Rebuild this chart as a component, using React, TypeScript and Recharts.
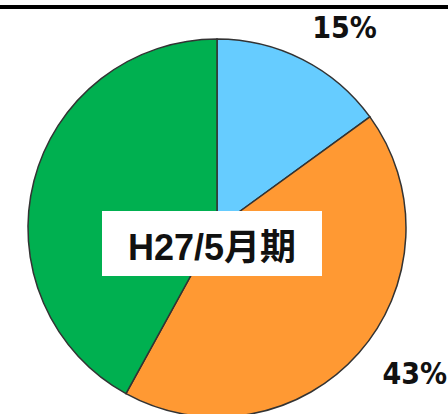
import * as React from "react"
import { PieChart, Pie, Cell } from "recharts"

const SEGMENTS = ["A", "B", "C"]
const SHARES = [15, 43, 42]
const SHARE_LABELS = ["15%", "43%", ""]
const COLORS = ["#66CCFF", "#FF9933", "#00B050"]
const PERIOD = "H27/5月期"

// label nudges (px) from the default outside position
const LABEL_NUDGE = [
  { dx: 20, dy: 11 },
  { dx: 20, dy: -11 },
  { dx: 0, dy: 0 },
]

const data = SEGMENTS.map((name, i) => ({
  name,
  value: SHARES[i],
  label: SHARE_LABELS[i],
}))

const RADIAN = Math.PI / 180

function renderLabel(props: any) {
  const { cx, cy, midAngle, outerRadius, index } = props
  const text = SHARE_LABELS[index]
  if (!text) return null
  const r = outerRadius + 48
  const x = cx + r * Math.cos(-midAngle * RADIAN) + LABEL_NUDGE[index].dx
  const y = cy + r * Math.sin(-midAngle * RADIAN) + LABEL_NUDGE[index].dy
  return (
    <text
      x={x}
      y={y}
      textAnchor="middle"
      dominantBaseline="central"
      fill="#111"
      fontFamily="DejaVu Sans Condensed, DejaVu Sans"
      fontWeight="bold"
      fontSize={30}
    >
      {text}
    </text>
  )
}

export default function App() {
  return (
    <div
      style={{
        position: "absolute",
        left: 0,
        top: 0,
        width: 448,
        height: 414,
        background: "#fff",
        overflow: "hidden",
      }}
    >
      <div
        style={{
          position: "absolute",
          left: 0,
          top: 5,
          width: 448,
          height: 4,
          background: "#000",
        }}
      />
      <PieChart width={448} height={414} margin={{ top: 0, right: 0, bottom: 0, left: 0 }}>
        <Pie
          data={data}
          dataKey="value"
          nameKey="name"
          cx={217}
          cy={228}
          outerRadius={189}
          startAngle={90}
          endAngle={-270}
          stroke="#333"
          strokeWidth={1.5}
          label={renderLabel}
          labelLine={false}
          isAnimationActive={false}
        >
          {data.map((entry, index) => (
            <Cell key={`cell-${index}`} fill={COLORS[index % COLORS.length]} />
          ))}
        </Pie>
      </PieChart>
      <div
        style={{
          position: "absolute",
          left: 102,
          top: 211,
          width: 220,
          height: 65,
          background: "#fff",
          display: "flex",
          alignItems: "center",
          justifyContent: "center",
          fontFamily: "Liberation Sans, Noto Sans CJK JP, sans-serif",
          fontWeight: "bold",
          fontSize: 36,
          color: "#111",
        }}
      >
        {PERIOD}
      </div>
    </div>
  )
}
